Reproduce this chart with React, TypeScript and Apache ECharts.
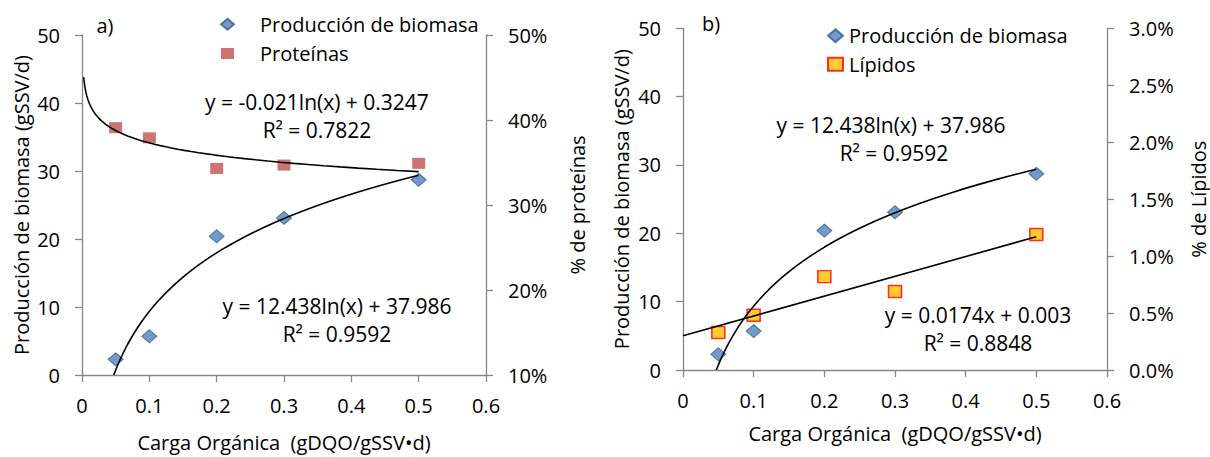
import React, { useEffect, useRef } from "react";
import * as echarts from "echarts";

const xLoad = [0.05, 0.1, 0.2, 0.3, 0.5];
const biomass = [2.3, 5.7, 20.4, 23.1, 28.7];
const proteins = [0.391, 0.379, 0.343, 0.347, 0.349];
const lipids = [0.0033, 0.0048, 0.0082, 0.0069, 0.0119];

const xTicks = [0, 0.1, 0.2, 0.3, 0.4, 0.5, 0.6];

// trendline coefficients as printed on the chart
const bioA = 12.438, bioB = 37.986;
const protA = -0.021, protB = 0.3247;
const lipM = 0.0174, lipC = 0.003;

const FONT = "Open Sans";
const FS = 20;
const EQ_FS = 21;
const AXIS_COLOR = "#868686";

function logCurve(a: number, b: number, x0: number, x1: number) {
  const pts: number[][] = [];
  const n = 80;
  for (let i = 0; i <= n; i++) {
    const x = x0 * Math.pow(x1 / x0, i / n);
    pts.push([x, a * Math.log(x) + b]);
  }
  return pts;
}

function axisX(gridIndex: number, gap: number) {
  return {
    type: "value",
    gridIndex,
    min: xTicks[0],
    max: xTicks[xTicks.length - 1],
    interval: 0.1,
    name: "Carga Orgánica  (gDQO/gSSV•d)",
    nameLocation: "middle",
    nameGap: gap,
    nameTextStyle: { fontFamily: FONT, fontSize: FS, color: "#000" },
    axisLine: { show: true, lineStyle: { color: AXIS_COLOR, width: 1.3 } },
    axisTick: { show: true, length: 7, lineStyle: { color: AXIS_COLOR, width: 1.3 } },
    axisLabel: {
      margin: 20,
      fontFamily: FONT,
      fontSize: FS,
      color: "#000",
      formatter: (v: number) => String(+v.toFixed(1)),
    },
    splitLine: { show: false },
  };
}

function axisY(gridIndex: number, position: string, min: number, max: number, interval: number, name: string, fmt: (v: number) => string, gap: number) {
  return {
    type: "value",
    gridIndex,
    position,
    min,
    max,
    interval,
    name,
    nameLocation: "middle",
    nameRotate: 90,
    nameGap: gap,
    nameTextStyle: { fontFamily: FONT, fontSize: FS, color: "#000" },
    axisLine: { show: true, lineStyle: { color: AXIS_COLOR, width: 1.3 } },
    axisTick: { show: true, length: 7, lineStyle: { color: AXIS_COLOR, width: 1.3 } },
    axisLabel: { margin: 22, fontFamily: FONT, fontSize: FS, color: "#000", formatter: fmt },
    splitLine: { show: false },
  };
}

const blueDiamond = {
  symbol: "diamond",
  symbolSize: [15, 13],
  itemStyle: { color: "#4F81BD", borderColor: "#385D8A", borderWidth: 1 },
};

const textStyleBase = { fontFamily: FONT, fontSize: EQ_FS, fill: "#000" };

export default function App() {
  const ref = useRef<HTMLDivElement>(null);
  useEffect(() => {
    const chart = echarts.init(ref.current!, null, { renderer: "svg" });
    const bioPts = xLoad.map((x, i) => [x, biomass[i]]);
    const option: any = {
      animation: false,
      backgroundColor: "#fff",
      grid: [
        { left: 82, top: 35, width: 404, height: 343.3 },
        { left: 683, top: 28.3, width: 424, height: 341.7 },
      ],
      xAxis: [axisX(0, 57), axisX(1, 53)],
      yAxis: [
        axisY(0, "left", 0, 50, 10, "Producción de biomasa (gSSV/d)", (v) => String(v), 51),
        axisY(0, "right", 0.1, 0.5, 0.1, "% de proteínas", (v) => Math.round(v * 100) + "%", 81),
        axisY(1, "left", 0, 50, 10, "Producción de biomasa (gSSV/d)", (v) => String(v), 52),
        axisY(1, "right", 0, 0.03, 0.005, "% de Lípidos", (v) => (v * 100).toFixed(1) + "%", 81),
      ],
      legend: [
        {
          data: ["Producción de biomasa", "Proteínas"],
          orient: "vertical",
          left: 215,
          top: 9.3,
          itemWidth: 13,
          itemHeight: 11,
          itemGap: 9.2,
          symbolKeepAspect: false,
          textStyle: { fontFamily: FONT, fontSize: FS, color: "#000", lineHeight: 20, padding: [0, 0, 0, 21] },
        },
        {
          data: ["Producción de biomasa", "Lípidos"],
          orient: "vertical",
          left: 822,
          top: 20.7,
          itemWidth: 15,
          itemHeight: 13,
          itemGap: 8.6,
          symbolKeepAspect: false,
          textStyle: { fontFamily: FONT, fontSize: FS, color: "#000", lineHeight: 20, padding: [0, 0, 0, 1] },
        },
      ],
      series: [
        {
          type: "line",
          name: "trendBioA",
          xAxisIndex: 0,
          yAxisIndex: 0,
          data: logCurve(bioA, bioB, 0.0472, 0.5),
          showSymbol: false,
          lineStyle: { color: "#000", width: 1.6 },
          z: 3,
        },
        {
          type: "line",
          name: "trendProt",
          xAxisIndex: 0,
          yAxisIndex: 1,
          data: logCurve(protA, protB, 0.0025, 0.5),
          showSymbol: false,
          lineStyle: { color: "#000", width: 1.6 },
          z: 3,
        },
        {
          type: "scatter",
          name: "Producción de biomasa",
          xAxisIndex: 0,
          yAxisIndex: 0,
          data: bioPts,
          ...blueDiamond,
          z: 2,
        },
        {
          type: "scatter",
          name: "Proteínas",
          xAxisIndex: 0,
          yAxisIndex: 1,
          data: xLoad.map((x, i) => [x, proteins[i]]),
          symbol: "rect",
          symbolSize: [13, 11],
          itemStyle: { color: "#C0504D" },
          z: 2,
        },
        {
          type: "line",
          name: "trendBioB",
          xAxisIndex: 1,
          yAxisIndex: 2,
          data: logCurve(bioA, bioB, 0.0472, 0.5),
          showSymbol: false,
          lineStyle: { color: "#000", width: 1.6 },
          z: 3,
        },
        {
          type: "line",
          name: "trendLip",
          xAxisIndex: 1,
          yAxisIndex: 3,
          data: [
            [0, lipC],
            [0.5, lipM * 0.5 + lipC],
          ],
          showSymbol: false,
          lineStyle: { color: "#000", width: 1.6 },
          z: 3,
        },
        {
          type: "scatter",
          name: "Producción de biomasa",
          xAxisIndex: 1,
          yAxisIndex: 2,
          data: bioPts,
          ...blueDiamond,
          z: 2,
        },
        {
          type: "scatter",
          name: "Lípidos",
          xAxisIndex: 1,
          yAxisIndex: 3,
          data: xLoad.map((x, i) => [x, lipids[i]]),
          symbol: "rect",
          symbolSize: [13, 12],
          itemStyle: { color: "#FFC000", borderColor: "#FF0000", borderWidth: 1.5 },
          z: 2,
        },
      ],
      graphic: [
        { type: "text", x: 105, y: 25, style: { ...textStyleBase, fontSize: FS, text: "a)", align: "center", verticalAlign: "middle" } },
        { type: "text", x: 711, y: 23, style: { ...textStyleBase, fontSize: FS, text: "b)", align: "center", verticalAlign: "middle" } },
        { type: "text", x: 317, y: 102, style: { ...textStyleBase, text: "y = -0.021ln(x) + 0.3247", align: "center", verticalAlign: "middle" } },
        { type: "text", x: 317, y: 130, style: { ...textStyleBase, text: "R² = 0.7822", align: "center", verticalAlign: "middle" } },
        { type: "text", x: 337, y: 306, style: { ...textStyleBase, text: "y = 12.438ln(x) + 37.986", align: "center", verticalAlign: "middle" } },
        { type: "text", x: 337, y: 334, style: { ...textStyleBase, text: "R² = 0.9592", align: "center", verticalAlign: "middle" } },
        { type: "text", x: 891, y: 125, style: { ...textStyleBase, text: "y = 12.438ln(x) + 37.986", align: "center", verticalAlign: "middle" } },
        { type: "text", x: 894, y: 153, style: { ...textStyleBase, text: "R² = 0.9592", align: "center", verticalAlign: "middle" } },
        { type: "text", x: 978, y: 315, style: { ...textStyleBase, text: "y = 0.0174x + 0.003", align: "center", verticalAlign: "middle" } },
        { type: "text", x: 978, y: 343, style: { ...textStyleBase, text: "R² = 0.8848", align: "center", verticalAlign: "middle" } },
      ],
    };
    chart.setOption(option);
    return () => chart.dispose();
  }, []);
  return (
    <div
      ref={ref}
      style={{ position: "absolute", left: 0, top: 0, width: 1210, height: 457, background: "#fff" }}
    />
  );
}
